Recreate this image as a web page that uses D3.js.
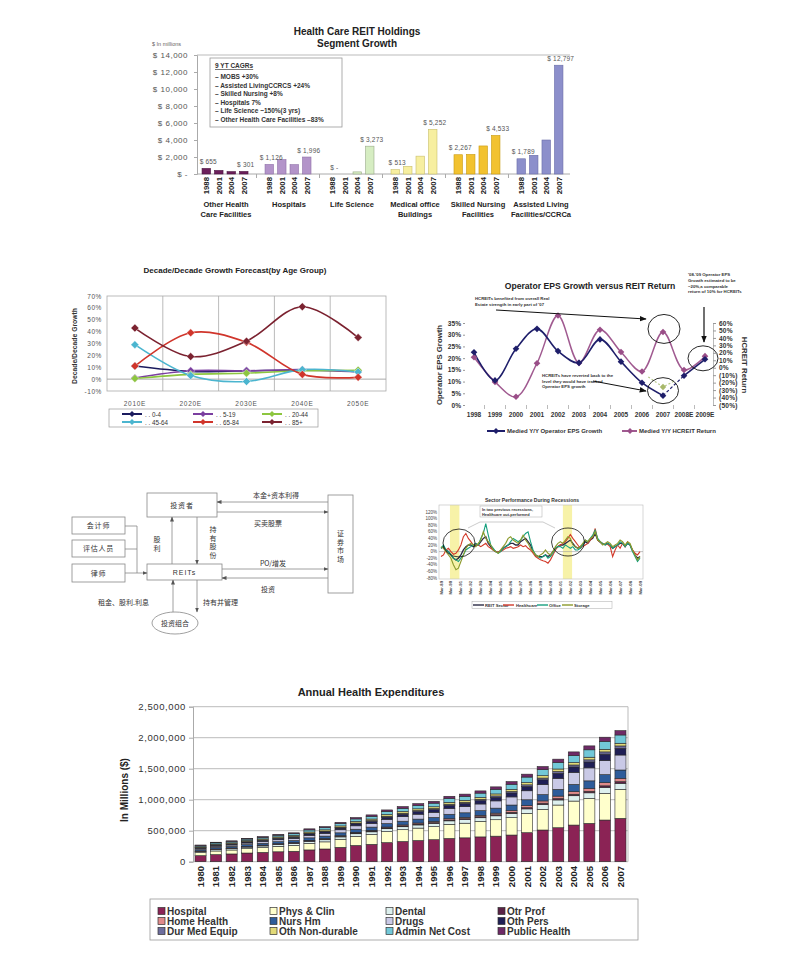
<!DOCTYPE html>
<html><head><meta charset="utf-8">
<script src="https://cdn.jsdelivr.net/npm/d3@7/dist/d3.min.js"></script>
<style>html,body{margin:0;padding:0;background:#fff;}svg{display:block;}</style>
</head><body>
<svg id="chart" width="796" height="966"></svg>
<script>
// ================= DATA =================
// Chart 1: Health Care REIT Holdings Segment Growth ($ millions)
const segNames = ["Other Health Care Facilities","Hospitals","Life Science","Medical office Buildings","Skilled Nursing Facilities","Assisted Living Facilities/CCRCa"];
const segLabelLines = [["Other Health","Care Facilities"],["Hospitals"],["Life Science"],["Medical office","Buildings"],["Skilled Nursing","Facilities"],["Assisted Living","Facilities/CCRCa"]];
const segYears = ["1988","2001","2004","2007"];
const segOther = [655, 420, 280, 301];
const segHospitals = [1126, 1700, 1100, 1996];
const segLifeSci = [0, 0, 250, 3273];
const segMOB = [513, 900, 2100, 5252];
const segSNF = [2267, 2300, 3300, 4533];
const segALF = [1789, 2200, 4000, 12797];
const segTicks = [0, 2000, 4000, 6000, 8000, 10000, 12000, 14000];
const cagrLines = ["9 YT CAGRs","– MOBS +30%","– Assisted LivingCCRCS +24%","– Skilled Nursing +8%","– Hospitals 7%","– Life Science ~150%(3 yrs)","– Other Health Care Facilities –83%"];

// Chart 2: Decade/Decade Growth Forecast (%)
const ageCats = ["2010E","2020E","2030E","2040E","2050E"];
const ageGroups = ["0-4","5-19","20-44","45-64","65-84","85+"];
const age0_4 = [11, 6.5, 7, 7.5, 7];
const age5_19 = [1, 7, 7, 8, 6];
const age20_44 = [0.5, 4, 5, 7, 7.5];
const age45_64 = [29, 3, -2, 8, 6];
const age65_84 = [11, 39, 31, 4, 1.5];
const age85 = [43, 19, 32, 61, 35];
const ageTicks = [-10, 0, 10, 20, 30, 40, 50, 60, 70];

// Chart 3: Operator EPS Growth versus REIT Return
const epsYears = ["1998","1999","2000","2001","2002","2003","2004","2005","2006","2007","2008E","2009E"];
const epsGrowth = [22.5, 10.5, 24, 32.5, 23, 18, 28, 18.5, 9.5, 4, 12.5, 19.5];
const reitReturn = [14, -19, -39, 6, 70, 6.5, 51, 21, -5, 48, -3, 15.5];
const estEps = [[8.3, 12], [9, 7.7], [9.6, 10.5]]; // [year index, %]
const epsLeftTicks = [0, 5, 10, 15, 20, 25, 30, 35];
const epsRightTicks = [-50, -40, -30, -20, -10, 0, 10, 20, 30, 40, 50, 60];

// Chart 4: flow diagram labels
const flowLabels = ["投资者","会计师","评估人员","律师","REITs"];

// Chart 5: Sector Performance During Recessions (quarterly, Mar-89 .. Mar-09, %)
const secDates = ["Mar-89","Mar-90","Mar-91","Mar-92","Mar-93","Mar-94","Mar-95","Mar-96","Mar-97","Mar-98","Mar-99","Mar-00","Mar-01","Mar-02","Mar-03","Mar-04","Mar-05","Mar-06","Mar-07","Mar-08","Mar-09"];
const secREIT = [10,15,5,0, -10,-20,-25,-20, -10,5,15,20, 20,15,20,20, 30,40,45,25, 15,5,0,-3, 3,10,15,20, 25,25,20,20, 30,35,40,30, 20,0,-10,-15, -15,-15,-10,-15, -10,0,10,15, 20,20,25,30, 35,25,15,10, 15,20,30,25, 35,40,55,35, 28,22,22,25, 20,10,15,20, 25,25,15,25, 20,3,-10,-20, -15];
const secHealth = [-15,-10,5,10, 0,-8,-5,5, 20,45,55,40, 30,20,25,20, 15,20,25,15, 10,5,0,-2, 0,5,10,12, 15,10,12,15, 20,15,18,10, 5,-5,-15,-20, -25,-28,-30,-35, -25,-10,5,15, 20,25,30,40, 52,40,30,20, 10,15,20,25, 35,45,70,35, 30,25,20,22, 15,-15,5,20, 10,25,15,30, 20,5,-5,-10, 0];
const secOffice = [10,20,5,0, -10,-20,-25,-30, -20,-10,5,10, 15,20,25,20, 40,55,85,50, 20,10,0,-5, 0,10,15,20, 30,40,35,30, 35,45,55,60, 30,5,-10,-15, -20,-15,-10,-20, -15,-5,10,15, 15,10,20,15, 10,15,5,5, 10,20,35,30, 40,50,65,40, 30,25,20,25, 20,10,15,20, 30,25,15,25, 20,0,-15,-30, -20];
const secStorage = [15,10,0,-10, -20,-40,-55,-50, -30,-10,10,20, 25,20,15,25, 35,60,40,30, 20,5,0,-5, 5,15,25,40, 45,35,30,25, 35,50,35,25, 10,0,-10,-15, -10,-5,5,-5, -10,0,15,25, 30,25,35,45, 40,20,15,10, 15,25,35,30, 40,45,60,35, 30,20,25,30, 25,15,20,25, 35,30,20,30, 25,5,-10,-25, -15];
const secNames = ["REIT Sector","Healthcare","Office","Storage"];
const secRecessions = [[3.6, 7.4], [49, 52.7]];
const secTicks = [-80,-60,-40,-20,0,20,40,60,80,100,120];

// Chart 6: Annual Health Expenditures (values in thousands of $ millions)
const nheYears = ["1980","1981","1982","1983","1984","1985","1986","1987","1988","1989","1990","1991","1992","1993","1994","1995","1996","1997","1998","1999","2000","2001","2002","2003","2004","2005","2006","2007"];
const nheCats = ["Hospital","Phys & Clin","Dental","Otr Prof","Home Health","Nurs Hm","Drugs","Oth Pers","Dur Med Equip","Oth Non-durable","Admin Net Cost","Public Health"];
const nheHospital = [97,115,125,140,150,160,168,190,205,232,262,280,308,326,342,355,375,385,400,412,430,468,511,548,591,618,672,699];
const nhePhys = [50,58,64,70,78,88,95,105,115,130,148,160,178,190,200,210,228,236,250,265,280,312,333,366,387,403,430,468];
const nheDental = [19,22,22,25,26,28,29,33,34,38,41,42,46,48,51,52,56,57,59,63,68,72,78,82,86,90,95,97];
const nheOtrProf = [5,6,6,7,7,8,8,9,9,10,11,12,13,13,14,14,15,16,16,17,19,20,22,23,24,25,27,27];
const nheHome = [3,4,4,5,6,6,7,8,9,10,12,12,14,16,17,18,20,22,23,26,29,32,36,39,43,46,51,54];
const nheNurs = [22,25,26,29,31,33,35,40,41,46,50,52,57,60,63,65,71,73,76,81,88,95,103,109,116,122,130,134];
const nheDrugs = [17,20,22,25,28,31,33,40,43,49,55,59,66,73,79,83,94,99,107,117,131,145,161,176,192,209,227,242];
const nheOthPers = [12,14,15,17,18,20,21,24,26,28,32,33,37,40,42,44,49,51,54,58,64,70,77,83,89,96,103,108];
const nheDME = [6,6,7,8,8,9,9,10,11,12,13,14,15,16,17,17,19,20,21,22,24,26,28,30,32,34,36,38];
const nheNonDur = [12,14,14,16,16,17,18,20,21,22,24,24,26,27,28,28,30,30,31,32,34,36,38,39,40,42,42,43];
const nheAdmin = [17,20,21,23,25,27,28,33,34,38,42,44,49,52,55,58,64,66,69,75,82,89,97,104,112,120,128,134];
const nhePublic = [9,10,11,12,13,14,15,18,18,20,22,23,26,28,29,30,34,35,36,39,43,47,51,55,59,63,67,70];
const nheTicks = [0, 500000, 1000000, 1500000, 2000000, 2500000];

// ================= SETUP =================
const F = '"Liberation Sans", Arial, Helvetica, sans-serif';
const CJK = '"Noto Sans CJK SC", "Noto Sans CJK JP", sans-serif';
const svg = d3.select("#chart");
svg.append("rect").attr("width",796).attr("height",966).attr("fill","#fff");
const defs = svg.append("defs");
function arrowMarker(id, color, size){
  defs.append("marker").attr("id",id).attr("viewBox","0 0 10 10").attr("refX",9).attr("refY",5)
    .attr("markerWidth",size).attr("markerHeight",size).attr("orient","auto").attr("markerUnits","userSpaceOnUse")
    .append("path").attr("d","M0,1L10,5L0,9Z").attr("fill",color);
}
arrowMarker("arrG","#555",5);
arrowMarker("arrK","#111",7);
function txt(g,x,y,s,o={}){
  return g.append("text").attr("x",x).attr("y",y).text(s)
    .attr("font-family",o.family||F).attr("font-size",o.size||8).attr("font-weight",o.weight||"normal")
    .attr("fill",o.fill||"#222").attr("text-anchor",o.anchor||"start").attr("letter-spacing",o.ls||0);
}
function diamond(s){ return `M0,${-s}L${s},0L0,${s}L${-s},0Z`; }
function styleAxis(a,o){
  a.attr("font-family",o.family||F).attr("font-size",o.size||8);
  a.select(".domain").attr("stroke",o.domain||"#aaa");
  a.selectAll(".tick line").attr("stroke",o.tick||"#aaa");
  a.selectAll(".tick text").attr("fill",o.fill||"#444").attr("font-weight",o.weight||"normal").attr("letter-spacing",o.ls||0);
}

// ================= CHART 1 =================
{
  const g = svg.append("g");
  const segValues = [segOther, segHospitals, segLifeSci, segMOB, segSNF, segALF];
  const segColors = ["#6B1F5A","#B394C9","#D6EDC2","#F7EFA0","#F2C230","#8C8FCB"];
  const segStroke = ["#4a1540","#8f70a8","#9aaa8a","#c9bf6a","#c99a10","#6a6da8"];
  const x0 = d3.scaleBand().domain(segNames).range([197,568]).paddingInner(0.27).paddingOuter(0.08);
  const x1 = d3.scaleBand().domain(segYears).range([0,x0.bandwidth()]).paddingInner(0.32);
  const y = d3.scaleLinear().domain([0,14000]).range([174,55]);
  txt(g,357,35,"Health Care REIT Holdings",{size:10,weight:"bold",anchor:"middle"});
  txt(g,357,47,"Segment Growth",{size:10,weight:"bold",anchor:"middle"});
  txt(g,152,46,"$ In millions",{size:5.5,fill:"#666"});
  g.append("line").attr("x1",197).attr("x2",570).attr("y1",y(14000)).attr("y2",y(14000)).attr("stroke","#bbb");
  const ax = g.append("g").attr("transform","translate(197,0)")
    .call(d3.axisLeft(y).tickValues(segTicks).tickSize(3).tickPadding(6).tickFormat(v=>v===0?"$ -":"$ "+d3.format(",")(v)));
  styleAxis(ax,{size:8,fill:"#555",ls:0.5});
  g.append("line").attr("x1",197).attr("x2",570).attr("y1",y(0)).attr("y2",y(0)).attr("stroke","#aaa");
  for(let i=0;i<segNames.length-1;i++){
    const xs = (x0(segNames[i])+x0.bandwidth()+x0(segNames[i+1]))/2;
    g.append("line").attr("x1",xs).attr("x2",xs).attr("y1",y(0)).attr("y2",y(0)+4).attr("stroke","#aaa");
  }
  segNames.forEach((s,i)=>{
    const gg = g.append("g").attr("transform",`translate(${x0(s)},0)`);
    const rows = segYears.map((yr,j)=>({yr, v:segValues[i][j]}));
    gg.selectAll("rect").data(rows.filter(d=>d.v>0)).join("rect")
      .attr("x",d=>x1(d.yr)).attr("y",d=>y(d.v)).attr("width",x1.bandwidth()).attr("height",d=>y(0)-y(d.v))
      .attr("fill",segColors[i]).attr("stroke",segStroke[i]).attr("stroke-width",0.6);
    [0,3].forEach(j=>{
      const v = segValues[i][j];
      txt(gg, x1(segYears[j])+x1.bandwidth()/2+2, y(v)-4.5, v===0?"$ -":"$ "+d3.format(",")(v), {size:6.5,fill:"#555",anchor:"middle",ls:0.2});
    });
    segYears.forEach(yr=>{
      gg.append("text").attr("transform",`translate(${x1(yr)+x1.bandwidth()/2+2.8},177) rotate(-90)`)
        .attr("text-anchor","end").attr("font-family",F).attr("font-size",7.8).attr("font-weight","bold").attr("fill","#222").text(yr);
    });
    segLabelLines[i].forEach((ln,k)=> txt(gg, x0.bandwidth()/2+1, 207+k*9.5, ln, {size:7.5,weight:"bold",anchor:"middle"}));
  });
  g.append("rect").attr("x",210).attr("y",58).attr("width",132).attr("height",69).attr("fill","#fff").attr("stroke","#999").attr("stroke-width",0.8);
  cagrLines.forEach((ln,k)=>{
    const t = txt(g,215,k===0?68:79+(k-1)*8.5,ln,{size:6.5,weight:"bold",fill:"#333"});
    if(k===0) t.attr("text-decoration","underline");
  });
}

// ================= CHART 2 =================
{
  const g = svg.append("g");
  const x = d3.scalePoint().domain(ageCats).range([107,386]).padding(0.5);
  const y = d3.scaleLinear().domain([-10,70]).range([391,296]);
  const step = x.step();
  txt(g,235,273,"Decade/Decade Growth Forecast(by Age Group)",{size:8,weight:"bold",anchor:"middle"});
  g.append("rect").attr("x",107).attr("y",y(70)).attr("width",279).attr("height",y(-10)-y(70)).attr("fill","none").attr("stroke","#aaa").attr("stroke-width",0.8);
  ageCats.slice(1).forEach(c=>{
    g.append("line").attr("x1",x(c)-step/2).attr("x2",x(c)-step/2).attr("y1",y(70)).attr("y2",y(-10)).attr("stroke","#aaa").attr("stroke-width",0.8);
  });
  g.append("line").attr("x1",107).attr("x2",386).attr("y1",y(0)).attr("y2",y(0)).attr("stroke","#aaa");
  const ax = g.append("g").attr("transform","translate(107,0)").call(d3.axisLeft(y).tickValues(ageTicks).tickSize(0).tickPadding(5).tickFormat(v=>v+"%"));
  styleAxis(ax,{size:6.5,fill:"#555",ls:0.6,domain:"none"});
  ageCats.forEach(c=> txt(g,x(c),406,c,{size:6.5,fill:"#555",anchor:"middle",ls:0.7}));
  g.append("text").attr("transform","translate(77,346) rotate(-90)").attr("text-anchor","middle")
    .attr("font-family",F).attr("font-size",6.8).attr("font-weight","bold").attr("fill","#333").text("Decade/Decade Growth");
  const series = [age0_4, age5_19, age20_44, age45_64, age65_84, age85];
  const colors = ["#1B1B5E","#7B3FA0","#8DC63F","#4BB5CF","#D0352B","#7B2230"];
  const line = d3.line().x((d,i)=>x(ageCats[i])).y(d=>y(d)).curve(d3.curveCatmullRom.alpha(0.5));
  series.forEach((s,k)=>{
    g.append("path").attr("d",line(s)).attr("fill","none").attr("stroke",colors[k]).attr("stroke-width",1.6);
    g.selectAll(null).data(s).join("path").attr("d",diamond(4)).attr("transform",(d,i)=>`translate(${x(ageCats[i])},${y(d)})`)
      .attr("fill",colors[k]).attr("stroke","#fff").attr("stroke-width",0.4);
  });
  g.append("rect").attr("x",109).attr("y",409).attr("width",209).attr("height",18).attr("fill","#fff").attr("stroke","#999").attr("stroke-width",0.7);
  const lcx = [122,193,262], lcy = [414,422];
  ageGroups.forEach((n,k)=>{
    const cx = lcx[k%3], cy = lcy[Math.floor(k/3)];
    g.append("line").attr("x1",cx).attr("x2",cx+20).attr("y1",cy).attr("y2",cy).attr("stroke",colors[k]).attr("stroke-width",2);
    g.append("path").attr("d",diamond(3)).attr("transform",`translate(${cx+10},${cy})`).attr("fill",colors[k]);
    txt(g,cx+23,cy+2.5,". . "+n,{size:6.3,fill:"#333"});
  });
}

// ================= CHART 3 =================
{
  const g = svg.append("g");
  const xi = d3.scaleLinear().domain([0,epsYears.length-1]).range([474,705]);
  const yL = d3.scaleLinear().domain([0,35]).range([405,323]);
  const yR = d3.scaleLinear().domain([-50,60]).range([405,323]);
  txt(g,590,289,"Operator EPS Growth versus REIT Return",{size:8.6,weight:"bold",anchor:"middle"});
  const axL = g.append("g").attr("transform","translate(465,0)").call(d3.axisLeft(yL).tickValues(epsLeftTicks).tickSize(2).tickPadding(2).tickFormat(v=>v+"%"));
  styleAxis(axL,{size:6.6,fill:"#333",weight:"bold",domain:"none",tick:"#999"});
  const axR = g.append("g").attr("transform","translate(713,0)").call(d3.axisRight(yR).tickValues(epsRightTicks).tickSize(3).tickPadding(3).tickFormat(v=>v<0?"("+(-v)+"%)":v+"%"));
  styleAxis(axR,{size:6.6,fill:"#333",weight:"bold",domain:"#bbb",tick:"#999",ls:0.2});
  epsYears.forEach((yr,i)=>{
    txt(g,xi(i),417,yr,{size:6.5,weight:"bold",anchor:"middle",fill:"#333"});
    if(i>0) g.append("line").attr("x1",xi(i-0.5)).attr("x2",xi(i-0.5)).attr("y1",405).attr("y2",409).attr("stroke","#bbb");
  });
  g.append("text").attr("transform","translate(442,365) rotate(-90)").attr("text-anchor","middle")
    .attr("font-family",F).attr("font-size",7.8).attr("font-weight","bold").attr("fill","#333").text("Operator EPS Growth");
  g.append("text").attr("transform","translate(742,365) rotate(90)").attr("text-anchor","middle")
    .attr("font-family",F).attr("font-size",7.8).attr("font-weight","bold").attr("fill","#333").text("HCREIT Return");
  const navy = "#1E1E6A", pink = "#A05A90";
  const lineEst = d3.line().x(d=>xi(d[0])).y(d=>yL(d[1]));
  g.append("path").attr("d",lineEst(estEps)).attr("fill","none").attr("stroke","#B7C98A").attr("stroke-width",1.2).attr("stroke-dasharray","2,2");
  g.append("path").attr("d",diamond(3.2)).attr("transform",`translate(${xi(estEps[1][0])},${yL(estEps[1][1])})`).attr("fill","#A8B86A");
  const lineR = d3.line().x((d,i)=>xi(i)).y(d=>yR(d)).curve(d3.curveCatmullRom.alpha(0.5));
  g.append("path").attr("d",lineR(reitReturn)).attr("fill","none").attr("stroke",pink).attr("stroke-width",1.5);
  const idx = epsGrowth.map((v,i)=>[i,v]);
  const lineL = d3.line().x(d=>xi(d[0])).y(d=>yL(d[1])).curve(d3.curveCatmullRom.alpha(0.5));
  g.append("path").attr("d",lineL(idx.slice(0,10))).attr("fill","none").attr("stroke",navy).attr("stroke-width",1.6);
  g.append("path").attr("d",d3.line().x(d=>xi(d[0])).y(d=>yL(d[1]))(idx.slice(9,11))).attr("fill","none").attr("stroke",navy).attr("stroke-width",1.2).attr("stroke-dasharray","3,2");
  g.append("path").attr("d",d3.line().x(d=>xi(d[0])).y(d=>yL(d[1]))(idx.slice(10,12))).attr("fill","none").attr("stroke",navy).attr("stroke-width",1.6);
  g.selectAll(null).data(reitReturn).join("path").attr("d",diamond(3.3)).attr("transform",(d,i)=>`translate(${xi(i)},${yR(d)})`).attr("fill","#9A4E88");
  g.selectAll(null).data(epsGrowth).join("path").attr("d",diamond(3.3)).attr("transform",(d,i)=>`translate(${xi(i)},${yL(d)})`).attr("fill",navy);
  const i07 = epsYears.indexOf("2007"), i09 = epsYears.indexOf("2009E");
  g.append("ellipse").attr("cx",xi(i07)+1).attr("cy",yR(reitReturn[i07])-3).attr("rx",16).attr("ry",14.5).attr("fill","none").attr("stroke","#111").attr("stroke-width",0.9);
  g.append("ellipse").attr("cx",xi(i07)).attr("cy",yL(epsGrowth[i07])-5).attr("rx",15.5).attr("ry",13).attr("fill","none").attr("stroke","#111").attr("stroke-width",0.9);
  g.append("ellipse").attr("cx",xi(i09)-2).attr("cy",yL(epsGrowth[i09])-1).attr("rx",15).attr("ry",12.5).attr("fill","none").attr("stroke","#111").attr("stroke-width",0.9);
  ["HCREITs benefited from overall Real","Estate strength in early part of '07"].forEach((t,k)=>txt(g,475,300+k*5.5,t,{size:4.3,weight:"bold",fill:"#333"}));
  g.append("line").attr("x1",496).attr("y1",310).attr("x2",646).attr("y2",319).attr("stroke","#111").attr("stroke-width",1).attr("marker-end","url(#arrK)");
  ["HCREITs have reverted back to the","level they would have tracked","Operator EPS growth"].forEach((t,k)=>txt(g,542,377+k*5.5,t,{size:4.3,weight:"bold",fill:"#333"}));
  g.append("line").attr("x1",593).attr("y1",381).attr("x2",646).attr("y2",391).attr("stroke","#111").attr("stroke-width",1).attr("marker-end","url(#arrK)");
  ["'08-'09 Operator EPS","Growth estimated to be","~20%,a comparable","return of 10% for HCREITs"].forEach((t,k)=>txt(g,688,276+k*5.8,t,{size:4.3,weight:"bold",fill:"#333"}));
  g.append("line").attr("x1",704).attr("y1",307).attr("x2",704).attr("y2",342).attr("stroke","#111").attr("stroke-width",1.2).attr("marker-end","url(#arrK)");
  g.append("line").attr("x1",487).attr("x2",505).attr("y1",431).attr("y2",431).attr("stroke",navy).attr("stroke-width",2);
  g.append("path").attr("d",diamond(3)).attr("transform","translate(496,431)").attr("fill",navy);
  txt(g,507,433.2,"Medied Y/Y Operator EPS Growth",{size:6,weight:"bold",fill:"#333"});
  g.append("line").attr("x1",622).attr("x2",637).attr("y1",431).attr("y2",431).attr("stroke",pink).attr("stroke-width",2);
  g.append("path").attr("d",diamond(3)).attr("transform","translate(630,431)").attr("fill","#9A4E88");
  txt(g,639,433.2,"Medied Y/Y HCREIT Return",{size:6,weight:"bold",fill:"#333"});
}

// ================= CHART 4: flow diagram =================
{
  const g = svg.append("g");
  const st = "#888";
  const boxes = [[147,493,70,24],[72,517,53,17],[72,540,53,17],[72,564,53,18],[147,564,75,16]];
  boxes.forEach((b,k)=>{
    g.append("rect").attr("x",b[0]).attr("y",b[1]).attr("width",b[2]).attr("height",b[3]).attr("fill","#fff").attr("stroke",st).attr("stroke-width",0.8);
    txt(g,b[0]+b[2]/2,b[1]+b[3]/2+2.5,flowLabels[k],{size:7,family:k===4?F:CJK,anchor:"middle",fill:"#333",ls:k===4?1:0.8});
  });
  g.append("rect").attr("x",328).attr("y",495).attr("width",25).attr("height",98).attr("fill","#fff").attr("stroke",st).attr("stroke-width",0.8);
  ["证","券","市","场"].forEach((c,k)=>txt(g,340.5,536+k*8.5,c,{size:7,family:CJK,anchor:"middle",fill:"#333"}));
  g.append("ellipse").attr("cx",175).attr("cy",623).attr("rx",23).attr("ry",11).attr("fill","#fff").attr("stroke",st).attr("stroke-width",0.8);
  txt(g,175,625.5,"投资组合",{size:7,family:CJK,anchor:"middle",fill:"#333"});
  const arrow = (x1,y1,x2,y2,m=true)=>{ const l=g.append("line").attr("x1",x1).attr("y1",y1).attr("x2",x2).attr("y2",y2).attr("stroke",st).attr("stroke-width",0.8); if(m) l.attr("marker-end","url(#arrG)"); };
  arrow(328,502,217,502); txt(g,276,498,"本金+资本利得",{size:7,family:CJK,anchor:"middle",fill:"#333"});
  arrow(217,512,328,512); txt(g,268,526,"买卖股票",{size:7,family:CJK,anchor:"middle",fill:"#333"});
  arrow(172,564,172,517); ["股","利"].forEach((c,k)=>txt(g,157,542+k*9,c,{size:7,family:CJK,anchor:"middle",fill:"#333"}));
  arrow(197,517,197,564); ["持","有","股","份"].forEach((c,k)=>txt(g,213,532+k*8.5,c,{size:7,family:CJK,anchor:"middle",fill:"#333"}));
  arrow(125,526,137,526,false); arrow(125,549,137,549,false); arrow(137,526,137,573,false); arrow(125,573,147,573);
  arrow(222,569,328,569); txt(g,273,566,"PO/增发",{size:7,family:CJK,anchor:"middle",fill:"#333"});
  arrow(328,578,222,578); txt(g,268,592,"投资",{size:7,family:CJK,anchor:"middle",fill:"#333"});
  arrow(197,580,197,612); txt(g,203,605,"持有并管理",{size:7,family:CJK,fill:"#333"});
  arrow(173,612,173,580); txt(g,98,605,"租金、股利.利息",{size:7,family:CJK,fill:"#333"});
}

// ================= CHART 5: sector performance =================
{
  const g = svg.append("g");
  const x = d3.scaleLinear().domain([0,secREIT.length-1]).range([441,640]);
  const y = d3.scaleLinear().domain([-80,120]).range([578,512]);
  txt(g,532,501.5,"Sector Performance During Recessions",{size:5,weight:"bold",anchor:"middle",fill:"#333"});
  secRecessions.forEach(r=> g.append("rect").attr("x",x(r[0])).attr("y",505).attr("width",x(r[1])-x(r[0])).attr("height",74).attr("fill","#F7F2A8"));
  g.append("rect").attr("x",439).attr("y",505).attr("width",204).attr("height",74).attr("fill","none").attr("stroke","#bbb").attr("stroke-width",0.6);
  g.append("line").attr("x1",439).attr("x2",643).attr("y1",y(0)).attr("y2",y(0)).attr("stroke","#999").attr("stroke-width",0.6);
  secTicks.forEach(t=>txt(g,437,y(t)+1.5,t+"%",{size:4.5,anchor:"end",fill:"#444"}));
  secDates.forEach((d,k)=>{
    g.append("text").attr("transform",`translate(${x(k*4)+1.5},581) rotate(-90)`).attr("text-anchor","end")
      .attr("font-family",F).attr("font-size",4.2).attr("font-weight","bold").attr("fill","#444").text(d);
  });
  const series = [secREIT, secHealth, secOffice, secStorage];
  const colors = ["#2B2B45","#D23A2A","#17A07E","#8C9A2C"];
  const ln = d3.line().x((d,i)=>x(i)).y(d=>y(d));
  series.forEach((s,k)=> g.append("path").attr("d",ln(s)).attr("fill","none").attr("stroke",colors[k]).attr("stroke-width",k===0?1.3:1.1));
  g.append("ellipse").attr("cx",459).attr("cy",543).attr("rx",16).attr("ry",14).attr("fill","none").attr("stroke","#111").attr("stroke-width",0.8);
  g.append("ellipse").attr("cx",568).attr("cy",542).attr("rx",16.5).attr("ry",14).attr("fill","none").attr("stroke","#111").attr("stroke-width",0.8);
  g.append("path").attr("d","M468,528 L480,522 L543,522 L555,528").attr("fill","none").attr("stroke","#aaa").attr("stroke-width",0.6);
  g.append("rect").attr("x",480).attr("y",506).attr("width",62).attr("height",11).attr("fill","#fff").attr("stroke","#aaa").attr("stroke-width",0.5);
  txt(g,482,510.5,"In two previous recessions,",{size:3.9,weight:"bold",fill:"#333"});
  txt(g,482,515.5,"Healthcare out-performed",{size:3.9,weight:"bold",fill:"#333"});
  g.append("rect").attr("x",472).attr("y",601.5).attr("width",140).attr("height",7).attr("fill","#fff").attr("stroke","#aaa").attr("stroke-width",0.5);
  const lx = [473,503,537,562], tx = [485,516,549,574];
  secNames.forEach((n,k)=>{
    g.append("line").attr("x1",lx[k]).attr("x2",lx[k]+11).attr("y1",605).attr("y2",605).attr("stroke",colors[k]).attr("stroke-width",1.4);
    txt(g,tx[k],606.6,n,{size:4.2,weight:"bold",fill:"#333"});
  });
}

// ================= CHART 6: Annual Health Expenditures =================
{
  const g = svg.append("g");
  const cols = [nheHospital,nhePhys,nheDental,nheOtrProf,nheHome,nheNurs,nheDrugs,nheOthPers,nheDME,nheNonDur,nheAdmin,nhePublic];
  const colors = ["#8B2355","#FFFFCC","#DDF0EE","#5A2245","#E08A8A","#2E5C9A","#C9C9E6","#1F1F55","#6E6E9E","#E2DA78","#72C8D8","#6E2A66"];
  const table = nheYears.map((yr,i)=>{ const o={year:yr}; nheCats.forEach((c,k)=>o[c]=cols[k][i]*1000); return o; });
  const stacked = d3.stack().keys(nheCats)(table);
  const x = d3.scaleBand().domain(nheYears).range([193,628]).paddingInner(0.29).paddingOuter(0.13);
  const y = d3.scaleLinear().domain([0,2500000]).range([861.7,706.7]);
  txt(g,371,696,"Annual Health Expenditures",{size:11,weight:"bold",anchor:"middle"});
  nheTicks.forEach(t=> g.append("line").attr("x1",193).attr("x2",628).attr("y1",y(t)).attr("y2",y(t)).attr("stroke","#aaa").attr("stroke-width",0.8));
  g.append("line").attr("x1",628).attr("x2",628).attr("y1",y(2500000)).attr("y2",y(0)).attr("stroke","#bbb");
  const ax = g.append("g").attr("transform","translate(193,0)").call(d3.axisLeft(y).tickValues(nheTicks).tickSize(4).tickPadding(3).tickFormat(d3.format(",")));
  styleAxis(ax,{size:9.5,fill:"#333",ls:0.6,domain:"#aaa"});
  g.append("text").attr("transform","translate(128,790) rotate(-90)").attr("text-anchor","middle")
    .attr("font-family",F).attr("font-size",10).attr("font-weight","bold").attr("fill","#222").text("In Millions ($)");
  stacked.forEach((layer,k)=>{
    g.append("g").selectAll("rect").data(layer).join("rect")
      .attr("x",d=>x(d.data.year)).attr("y",d=>y(d[1])).attr("width",x.bandwidth()).attr("height",d=>y(d[0])-y(d[1]))
      .attr("fill",colors[k]).attr("stroke","#2a2a2a").attr("stroke-width",0.6);
  });
  nheYears.forEach(yr=>{
    g.append("text").attr("transform",`translate(${x(yr)+x.bandwidth()/2+3.4},866) rotate(-90)`).attr("text-anchor","end")
      .attr("font-family",F).attr("font-size",9.5).attr("font-weight","bold").attr("fill","#222").text(yr);
  });
  g.append("rect").attr("x",150).attr("y",899).attr("width",488).attr("height",41).attr("fill","#fff").attr("stroke","#999").attr("stroke-width",0.8);
  const lcx = [158,270,386,498], lcy = [911,921,931];
  nheCats.forEach((n,k)=>{
    const cx = lcx[k%4], cy = lcy[Math.floor(k/4)];
    g.append("rect").attr("x",cx).attr("y",cy-3.5).attr("width",7).attr("height",7).attr("fill",colors[k]).attr("stroke","#333").attr("stroke-width",0.7);
    txt(g,cx+9,cy+3.6,n,{size:10,weight:"bold",fill:"#333"});
  });
}
</script>
</body></html>
